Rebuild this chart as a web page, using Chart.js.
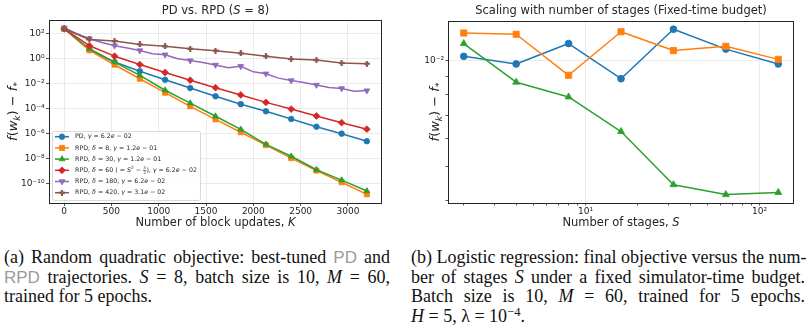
<!DOCTYPE html>
<html>
<head>
<meta charset="utf-8">
<script src="https://cdn.jsdelivr.net/npm/chart.js@4.4.1/dist/chart.umd.min.js"></script>
<style>
  body { margin: 0; background: #fff; }
  #page { position: relative; width: 808px; height: 330px; overflow: hidden; background: #fff; }
  canvas { position: absolute; top: 0; }
  #left { left: 0; }
  #right { left: 400px; }
  .cap { position: absolute; top: 248px; font-family: "Liberation Serif", "Times New Roman", serif; font-size: 18px; line-height: 19.5px; color: #111; }
  .cap .ln { text-align: justify; text-align-last: justify; white-space: nowrap; }
  .cap .last { text-align: left; text-align-last: left; }
  .sf { font-family: "Liberation Sans", Arial, sans-serif; color: #9b9b9b; font-size: 17px; }
  sup { font-size: 0.7em; vertical-align: 0.5em; line-height: 0; }
</style>
</head>
<body>
<div id="page">
  <canvas id="left" width="395" height="240"></canvas>
  <canvas id="right" width="408" height="240"></canvas>
  <div class="cap" style="left:4px;width:386px">
    <div class="ln">(a) Random quadratic objective: best-tuned <span class="sf">PD</span> and</div>
    <div class="ln"><span class="sf">RPD</span> trajectories. <i>S</i> = 8, batch size is 10, <i>M</i> = 60,</div>
    <div class="ln last">trained for 5 epochs.</div>
  </div>
  <div class="cap" style="left:411px;width:394px">
    <div class="ln">(b) Logistic regression: final objective versus the num-</div>
    <div class="ln">ber of stages <i>S</i> under a fixed simulator-time budget.</div>
    <div class="ln">Batch size is 10, <i>M</i> = 60, trained for 5 epochs.</div>
    <div class="ln last"><i>H</i> = 5, λ = 10<sup>−4</sup>.</div>
  </div>
</div>
<script>
// ---- left panel: f(w_k) - f* against block updates K ----
const K_STEPS = [0, 267, 533, 800, 1067, 1333, 1600, 1867, 2133, 2400, 2667, 2933, 3200];
const K_HALF_STEPS = [0, 133, 267, 400, 533, 667, 800, 933, 1067, 1200, 1333, 1467, 1600,
  1733, 1867, 2000, 2133, 2267, 2400, 2533, 2667, 2800, 2933, 3067, 3200];

const PD_GAP = [250, 5.2, 0.54, 0.10, 0.021, 4.5e-3, 1.0e-3, 2.3e-4, 6.2e-5, 1.5e-5, 3.6e-6, 1.0e-6, 2.5e-7];
const RPD8_GAP = [250, 4.7, 0.33, 0.025, 1.9e-3, 1.55e-4, 1.4e-5, 1.3e-6, 1.2e-7, 1.1e-8, 1.1e-9, 1.3e-10, 1.4e-11];
const RPD30_GAP = [250, 6.3, 0.54, 0.047, 3.0e-3, 2.8e-4, 2.5e-5, 2.2e-6, 1.4e-7, 1.55e-8, 1.3e-9, 1.9e-10, 2.6e-11];
const RPD60_GAP = [250, 11, 1.6, 0.34, 0.079, 0.019, 4.8e-3, 1.26e-3, 3.2e-4, 9.3e-5, 2.6e-5, 7.6e-6, 2.3e-6];
const RPD180_GAP = [300, 100, 40, 20, 11, 7.1, 4.5, 2.5, 2.1, 1.0, 0.71, 0.5, 0.32, 0.19, 0.25,
  0.089, 0.063, 0.028, 0.018, 0.0126, 7.9e-3, 5.0e-3, 4.2e-3, 2.5e-3, 2.8e-3];
const RPD420_GAP = [250, 35, 26, 14, 9.8, 6.3, 4.4, 2.7, 1.55, 0.93, 0.78, 0.45, 0.4];

const LEFT_X_TICKS = [0, 500, 1000, 1500, 2000, 2500, 3000];
const LEFT_Y_TICKS = [1e2, 1e0, 1e-2, 1e-4, 1e-6, 1e-8, 1e-10];

// ---- right panel: final objective against number of stages S ----
const STAGES = [2, 4, 8, 16, 32, 64, 128];
const PD_FINAL = [0.0103, 0.0098, 0.0112, 0.0089, 0.0123, 0.0108, 0.0098];
const RPD_FINAL = [0.0120, 0.0119, 0.0091, 0.0121, 0.0107, 0.0110, 0.0101];
const LOCALSGD_FINAL = [0.0112, 0.0087, 0.0079, 0.0063, 0.00445, 0.00417, 0.00423];

const RIGHT_X_TICKS = [2, 3, 4, 5, 6, 7, 8, 9, 10, 20, 30, 40, 50, 60, 70, 80, 90, 100];
const RIGHT_X_LABELED = [10, 100];
const RIGHT_Y_TICKS = [0.004, 0.005, 0.006, 0.007, 0.008, 0.009, 0.01];
const RIGHT_Y_LABELED = [0.01];

const C = { blue: '#1f77b4', orange: '#ff7f0e', green: '#2ca02c', red: '#d62728', purple: '#9467bd', brown: '#8c564b' };
const INK = '#262626';
const FONT = '"DejaVu Sans", sans-serif';

function plusMarker(color, s) {
  const c = document.createElement('canvas');
  c.width = c.height = s;
  const g = c.getContext('2d');
  g.fillStyle = color;
  const t = s * 0.36, o = (s - t) / 2;
  g.fillRect(o, 0, t, s);
  g.fillRect(0, o, s, t);
  return c;
}

const supExp = v => '10' + String(Math.round(Math.log10(v)))
  .replace(/-/g, '⁻').replace(/\d/g, d => '⁰¹²³⁴⁵⁶⁷⁸⁹'[d]);
const isIn = (arr, v) => arr.some(a => Math.abs(a - v) / a < 1e-6);

// marker drawing for the legends, same geometry as chart.js
function drawMarker(ctx, m, x, y) {
  ctx.save();
  if (m.style instanceof HTMLCanvasElement) {
    ctx.drawImage(m.style, x - m.style.width / 2, y - m.style.height / 2);
    ctx.restore();
    return;
  }
  ctx.fillStyle = m.color; ctx.strokeStyle = m.color; ctx.lineWidth = 0.8;
  ctx.translate(x, y);
  ctx.rotate((m.rot || 0) * Math.PI / 180);
  const r = m.r;
  ctx.beginPath();
  if (m.style === 'circle') ctx.arc(0, 0, r, 0, Math.PI * 2);
  else if (m.style === 'rect') { const s = r * Math.SQRT1_2; ctx.rect(-s, -s, 2 * s, 2 * s); }
  else if (m.style === 'rectRot') { ctx.moveTo(0, -r); ctx.lineTo(r, 0); ctx.lineTo(0, r); ctx.lineTo(-r, 0); ctx.closePath(); }
  else if (m.style === 'triangle') {
    let a = 0;
    ctx.moveTo(Math.sin(a) * r, -Math.cos(a) * r);
    a += 2 * Math.PI / 3; ctx.lineTo(Math.sin(a) * r, -Math.cos(a) * r);
    a += 2 * Math.PI / 3; ctx.lineTo(Math.sin(a) * r, -Math.cos(a) * r);
    ctx.closePath();
  }
  ctx.fill(); ctx.stroke();
  ctx.restore();
}

// text with italic / sub / sup / stacked fraction pieces
function drawRich(ctx, segs, x, y, size, align) {
  const parts = segs.map(s => typeof s === 'string' ? { t: s } : s);
  const font = p => `${p.it ? 'italic ' : ''}${(p.sc || 1) * size}px ${FONT}`;
  let w = 0;
  for (const p of parts) {
    if (p.fr) {
      ctx.font = `${size * 0.6}px ${FONT}`;
      p.w = Math.max(ctx.measureText(p.fr[0]).width, ctx.measureText(p.fr[1]).width) + 1;
    } else {
      ctx.font = font(p);
      p.w = ctx.measureText(p.t).width;
    }
    w += p.w;
  }
  let cx = align === 'center' ? x - w / 2 : x;
  ctx.textBaseline = 'middle';
  ctx.textAlign = 'left';
  ctx.fillStyle = INK;
  for (const p of parts) {
    if (p.fr) {
      ctx.font = `italic ${size * 0.6}px ${FONT}`;
      ctx.textAlign = 'center';
      ctx.fillText(p.fr[0], cx + p.w / 2, y - size * 0.38);
      ctx.font = `${size * 0.6}px ${FONT}`;
      ctx.fillText(p.fr[1], cx + p.w / 2, y + size * 0.42);
      ctx.fillRect(cx, y, p.w, 0.6);
      ctx.textAlign = 'left';
    } else {
      ctx.font = font(p);
      ctx.fillText(p.t, cx, y + (p.dy || 0) * size);
    }
    cx += p.w;
  }
  return w;
}

function decor(cfg) {
  return {
    id: 'decor',
    afterDatasetsDraw(chart) {
      const { ctx, chartArea: a } = chart;
      ctx.save();
      ctx.strokeStyle = INK; ctx.lineWidth = 1;
      ctx.strokeRect(Math.round(a.left) + 0.5, Math.round(a.top) + 0.5,
        Math.round(a.right - a.left) - 1, Math.round(a.bottom - a.top));
      const L = cfg.legend;
      ctx.fillStyle = 'rgba(255,255,255,0.85)';
      ctx.strokeStyle = '#d0d0d0';
      ctx.lineWidth = 0.8;
      ctx.beginPath();
      ctx.roundRect(L.x + 0.5, L.y + 0.5, L.w, L.h, 2);
      ctx.fill(); ctx.stroke();
      L.items.forEach((it, i) => {
        const y = L.y0 + i * L.dy;
        const m = cfg.markers[it.ds];
        ctx.strokeStyle = m.color; ctx.lineWidth = cfg.lw;
        ctx.beginPath(); ctx.moveTo(L.lx0, y); ctx.lineTo(L.lx1, y); ctx.stroke();
        drawMarker(ctx, m, (L.lx0 + L.lx1) / 2, y);
        drawRich(ctx, it.segs, L.tx, y, L.size, 'left');
      });
      ctx.restore();
    },
    afterDraw(chart) {
      const { ctx, chartArea: a } = chart;
      const cx = (a.left + a.right) / 2, cy = (a.top + a.bottom) / 2;
      ctx.save();
      drawRich(ctx, cfg.title, cx, 11.5, 11.5, 'center');
      drawRich(ctx, cfg.xTitle, cx, 223, 11.5, 'center');
      ctx.translate(cfg.yTitleX, cy);
      ctx.rotate(-Math.PI / 2);
      drawRich(ctx, cfg.yTitle, 0, 0, 13, 'center');
      ctx.restore();
    }
  };
}

const Y_TITLE = [{ t: 'f', it: 1 }, '(', { t: 'w', it: 1 }, { t: 'k', it: 1, sc: 0.7, dy: 0.25 }, ') − ',
  { t: 'f', it: 1 }, { t: '*', sc: 0.7, dy: 0.25 }];
const tickFont = { family: FONT, size: 9 };
const gridBase = { color: '#e6e6e6', lineWidth: 0.8, tickColor: INK, tickLength: 3, tickWidth: 0.8 };

const leftMarkers = [
  { color: C.blue, style: 'circle', r: 2.8 },
  { color: C.orange, style: 'rect', r: 3.6 },
  { color: C.green, style: 'triangle', r: 3.4 },
  { color: C.red, style: 'rectRot', r: 3.4 },
  { color: C.purple, style: 'triangle', r: 3.4, rot: 180 },
  { color: C.brown, style: plusMarker(C.brown, 6), r: 3 }
];
const leftSeries = [
  [K_STEPS, PD_GAP], [K_STEPS, RPD8_GAP], [K_STEPS, RPD30_GAP],
  [K_STEPS, RPD60_GAP], [K_HALF_STEPS, RPD180_GAP], [K_STEPS, RPD420_GAP]
];
const leftLabels = ['PD', 'RPD δ=8', 'RPD δ=30', 'RPD δ=60', 'RPD δ=180', 'RPD δ=420'];

function lineSet(label, xs, ys, m, i, n, lw, everyOther) {
  return {
    label,
    data: xs.map((x, j) => ({ x, y: ys[j] })),
    borderColor: m.color, backgroundColor: m.color,
    pointBackgroundColor: m.color, pointBorderColor: m.color,
    borderWidth: lw, pointBorderWidth: 0.8,
    pointStyle: m.style, pointRotation: m.rot || 0,
    pointRadius: everyOther ? (c => c.dataIndex % 2 ? 0 : m.r) : m.r,
    borderJoinStyle: 'round', borderCapStyle: 'round',
    tension: 0, order: n - i
  };
}

const gamma = { t: 'γ', it: 1 }, delta = { t: 'δ', it: 1 }, eIt = { t: 'e', it: 1 };
const Sit = { t: 'S', it: 1 };

new Chart(document.getElementById('left'), {
  type: 'line',
  data: {
    datasets: leftSeries.map(([xs, ys], i) =>
      lineSet(leftLabels[i], xs, ys, leftMarkers[i], i, 6, 1.5, i === 4))
  },
  options: {
    responsive: false, animation: false, devicePixelRatio: 1,
    layout: { padding: { top: 20, right: 13, left: 0, bottom: 0 }, autoPadding: false },
    plugins: { legend: { display: false }, tooltip: { enabled: false }, title: { display: false } },
    scales: {
      x: {
        type: 'linear', min: -160, max: 3360,
        afterBuildTicks: s => { s.ticks = LEFT_X_TICKS.map(v => ({ value: v })); },
        afterFit: s => { s.height = 37; },
        ticks: { font: tickFont, color: INK, padding: 0, maxRotation: 0, autoSkip: false, callback: v => String(v) },
        grid: gridBase, border: { display: false }
      },
      y: {
        type: 'logarithmic', min: Math.pow(10, -11.55), max: Math.pow(10, 3.1),
        afterBuildTicks: s => { s.ticks = LEFT_Y_TICKS.map(v => ({ value: v })); },
        afterFit: s => { s.width = 49; },
        ticks: { font: tickFont, color: INK, padding: 1.5, autoSkip: false, callback: v => supExp(v) },
        grid: gridBase, border: { display: false }
      }
    }
  },
  plugins: [decor({
    title: ['PD vs. RPD (', Sit, ' = 8)'],
    xTitle: ['Number of block updates, ', { t: 'K', it: 1 }],
    yTitle: Y_TITLE, yTitleX: 14, lw: 1.5,
    markers: leftMarkers,
    legend: {
      x: 52, y: 131, w: 148, h: 69, y0: 136.7, dy: 11.2, lx0: 55, lx1: 69, tx: 75, size: 6.3,
      items: [
        { ds: 0, segs: ['PD, ', gamma, ' = 6.2', eIt, ' − 02'] },
        { ds: 1, segs: ['RPD, ', delta, ' = 8, ', gamma, ' = 1.2', eIt, ' − 01'] },
        { ds: 2, segs: ['RPD, ', delta, ' = 30, ', gamma, ' = 1.2', eIt, ' − 01'] },
        { ds: 3, segs: ['RPD, ', delta, ' = 60 ( = ', Sit, { t: '2', sc: 0.7, dy: -0.35 }, ' − ', { fr: ['S', '2'] }, '), ', gamma, ' = 6.2', eIt, ' − 02'] },
        { ds: 4, segs: ['RPD, ', delta, ' = 180, ', gamma, ' = 6.2', eIt, ' − 02'] },
        { ds: 5, segs: ['RPD, ', delta, ' = 420, ', gamma, ' = 3.1', eIt, ' − 02'] }
      ]
    }
  })]
});

const rightMarkers = [
  { color: C.blue, style: 'circle', r: 3.4 },
  { color: C.orange, style: 'rect', r: 4.4 },
  { color: C.green, style: 'triangle', r: 4.0 }
];
const rightSeries = [PD_FINAL, RPD_FINAL, LOCALSGD_FINAL];
const rightLabels = ['PD', 'RPD', 'LocalSGD'];
const majorOnly = list => c => (c.tick && isIn(list, c.tick.value)) ? '#e6e6e6' : 'rgba(0,0,0,0)';

new Chart(document.getElementById('right'), {
  type: 'line',
  data: {
    datasets: rightSeries.map((ys, i) =>
      lineSet(rightLabels[i], STAGES, ys, rightMarkers[i], i, 3, 1.5, false))
  },
  options: {
    responsive: false, animation: false, devicePixelRatio: 1,
    layout: { padding: { top: 21, right: 14, left: 0, bottom: 0 }, autoPadding: false },
    plugins: { legend: { display: false }, tooltip: { enabled: false }, title: { display: false } },
    scales: {
      x: {
        type: 'logarithmic', min: 1.624, max: 157.6,
        afterBuildTicks: s => { s.ticks = RIGHT_X_TICKS.map(v => ({ value: v })); },
        afterFit: s => { s.height = 37; },
        ticks: { font: tickFont, color: INK, padding: 0.5, maxRotation: 0, autoSkip: false,
          callback: v => isIn(RIGHT_X_LABELED, v) ? supExp(v) : '' },
        grid: { ...gridBase, color: majorOnly(RIGHT_X_LABELED), tickLength: 2.5 },
        border: { display: false }
      },
      y: {
        type: 'logarithmic', min: 0.003947, max: 0.01298,
        afterBuildTicks: s => { s.ticks = RIGHT_Y_TICKS.map(v => ({ value: v })); },
        afterFit: s => { s.width = 48; },
        ticks: { font: tickFont, color: INK, padding: 1.5, autoSkip: false,
          callback: v => isIn(RIGHT_Y_LABELED, v) ? supExp(v) : '' },
        grid: { ...gridBase, color: majorOnly(RIGHT_Y_LABELED), tickLength: 2.5 },
        border: { display: false }
      }
    }
  },
  plugins: [decor({
    title: ['Scaling with number of stages (Fixed-time budget)'],
    xTitle: ['Number of stages, ', Sit],
    yTitle: Y_TITLE, yTitleX: 36, lw: 1.5,
    markers: rightMarkers,
    legend: {
      x: 451, y: 157, w: 119, h: 40, y0: 164, dy: 13.3, lx0: 454, lx1: 470, tx: 476.5, size: 7,
      items: [
        { ds: 0, segs: ['PD'] },
        { ds: 1, segs: ['RPD, ', delta, ' = ', Sit, { t: '2', sc: 0.7, dy: -0.35 }, ' − ', { fr: ['S', '2'] }] },
        { ds: 2, segs: ['LocalSGD, ', { t: 'R', it: 1 }, ' = ', Sit, ', ', { t: 'H', it: 1 }, ' = 5'] }
      ]
    }
  })]
});
</script>
</body>
</html>
